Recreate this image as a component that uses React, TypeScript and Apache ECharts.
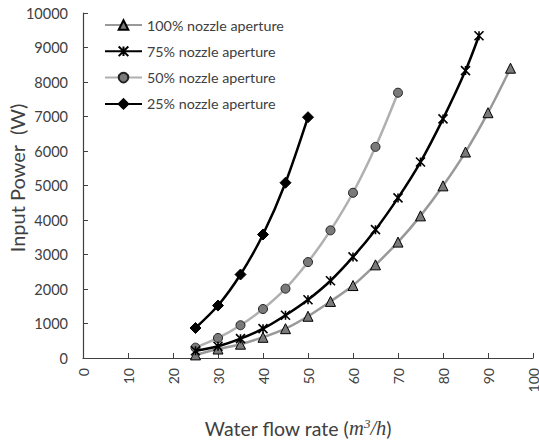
import React, { useEffect, useRef } from "react";
import * as echarts from "echarts";

const xTicks = [0, 10, 20, 30, 40, 50, 60, 70, 80, 90, 100];
const yTicks = [0, 1000, 2000, 3000, 4000, 5000, 6000, 7000, 8000, 9000, 10000];

const names = ["100% nozzle aperture", "75% nozzle aperture", "50% nozzle aperture", "25% nozzle aperture"];

const x100 = [25, 30, 35, 40, 45, 50, 55, 60, 65, 70, 75, 80, 85, 90, 95];
const y100 = [90, 260, 400, 600, 850, 1210, 1640, 2100, 2700, 3360, 4120, 4990, 5970, 7110, 8400];

const x75 = [25, 30, 35, 40, 45, 50, 55, 60, 65, 70, 75, 80, 85, 88];
const y75 = [210, 340, 560, 850, 1240, 1690, 2240, 2930, 3720, 4640, 5680, 6930, 8330, 9340];

const x50 = [25, 30, 35, 40, 45, 50, 55, 60, 65, 70];
const y50 = [300, 580, 950, 1420, 2010, 2780, 3700, 4790, 6120, 7690];

const x25 = [25, 30, 35, 40, 45, 50];
const y25 = [870, 1520, 2420, 3580, 5080, 6980];

const zip = (xs: number[], ys: number[]) => xs.map((x, i) => [x, ys[i]]);

const FONT = "Lato";
const TXT = "#404040";
const AX = "#404040";

export default function App() {
  const ref = useRef<HTMLDivElement>(null);
  useEffect(() => {
    document.body.style.margin = "0";
    const chart = echarts.init(ref.current!, null, { renderer: "svg" });
    const starPath = "path://M0,0L10,10M10,0L0,10M5,0L5,10";
    chart.setOption({
      animation: false,
      backgroundColor: "#ffffff",
      textStyle: { fontFamily: FONT },
      grid: { left: 83, right: 6, top: 13, bottom: 84, containLabel: false, outerBoundsMode: "none" },
      legend: {
        orient: "vertical",
        left: 104,
        top: 18,
        padding: 0,
        itemWidth: 37,
        itemHeight: 12,
        itemGap: 12.3,
        textStyle: { fontFamily: FONT, fontSize: 14.3, color: TXT },
        data: names,
      },
      graphic: [
        {
          type: "text",
          x: 17,
          y: 178,
          rotation: Math.PI / 2,
          style: {
            text: "Input Power  (W)",
            fontFamily: FONT,
            fontSize: 20,
            fill: TXT,
            align: "center",
            verticalAlign: "middle",
          },
        },
        {
          type: "text",
          x: 298,
          y: 428,
          style: {
            text: "{a|Water flow rate (}{i|m}{s|3}{i|/h}{a|)}",
            align: "center",
            verticalAlign: "middle",
            rich: {
              a: { fontFamily: FONT, fontSize: 19.5, fill: TXT },
              i: { fontFamily: "Liberation Serif", fontStyle: "italic", fontSize: 20.5, fill: TXT },
              s: { fontFamily: "Liberation Serif", fontStyle: "italic", fontSize: 13, fill: TXT, padding: [0, 0, 10, 0] },
            },
          },
        },
      ],
      xAxis: {
        type: "value",
        min: xTicks[0],
        max: xTicks[xTicks.length - 1],
        interval: 10,
        axisLine: { lineStyle: { color: AX, width: 1.2 } },
        axisTick: { inside: true, length: 5, lineStyle: { color: AX } },
        splitLine: { show: false },
        axisLabel: { rotate: 90, fontSize: 14, color: TXT, fontFamily: FONT, margin: 10 },
      },
      yAxis: {
        type: "value",
        min: yTicks[0],
        max: yTicks[yTicks.length - 1],
        interval: 1000,
        axisLine: { show: true, lineStyle: { color: AX, width: 1.2 } },
        axisTick: { show: true, inside: true, length: 5, lineStyle: { color: AX } },
        splitLine: { show: false },
        axisLabel: { fontSize: 14.5, color: TXT, fontFamily: FONT, margin: 15, formatter: (v: number) => String(v) },
      },
      series: [
        {
          name: names[0],
          type: "line",
          smooth: 0.3,
          data: zip(x100, y100),
          symbol: "triangle",
          symbolSize: 10,
          lineStyle: { color: "#999999", width: 2.5 },
          itemStyle: { color: "#7a7a7a", borderColor: "#000000", borderWidth: 1 },
          z: 2,
        },
        {
          name: names[1],
          type: "line",
          smooth: 0.3,
          data: zip(x75, y75),
          symbol: starPath,
          symbolSize: 9,
          lineStyle: { color: "#000000", width: 2.5 },
          itemStyle: { color: "#000000", borderColor: "#000000", borderWidth: 1.6 },
          z: 3,
        },
        {
          name: names[2],
          type: "line",
          smooth: 0.3,
          data: zip(x50, y50),
          symbol: "circle",
          symbolSize: 9,
          lineStyle: { color: "#b0b0b0", width: 2.5 },
          itemStyle: { color: "#7a7a7a", borderColor: "#222222", borderWidth: 1 },
          z: 2,
        },
        {
          name: names[3],
          type: "line",
          smooth: 0.3,
          data: zip(x25, y25),
          symbol: "diamond",
          symbolSize: 11,
          lineStyle: { color: "#000000", width: 2.5 },
          itemStyle: { color: "#000000", borderColor: "#000000", borderWidth: 1 },
          z: 3,
        },
      ],
    });
    return () => chart.dispose();
  }, []);
  return (
    <div
      ref={ref}
      style={{ width: 539, height: 442, position: "absolute", left: 0, top: 0 }}
    />
  );
}
